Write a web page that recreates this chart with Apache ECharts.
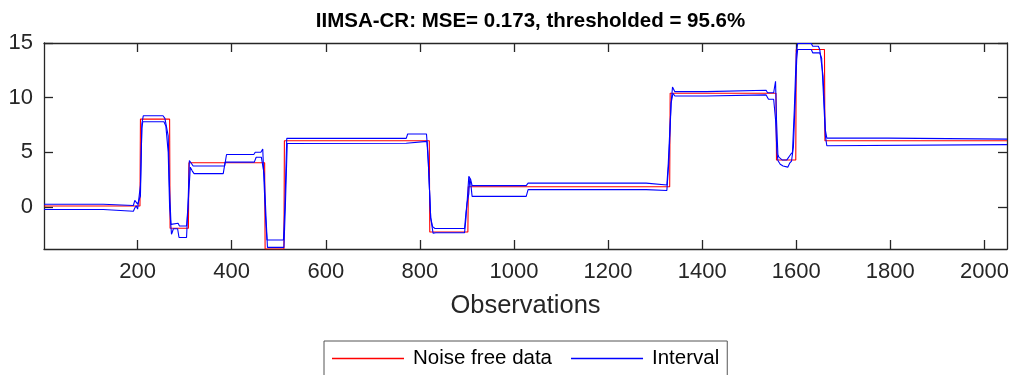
<!DOCTYPE html>
<html>
<head>
<meta charset="utf-8">
<script src="https://cdn.jsdelivr.net/npm/echarts@6/dist/echarts.min.js"></script>
<style>
html,body{margin:0;padding:0;background:#fff;}
#chart{width:1013px;height:375px;}
</style>
</head>
<body>
<div id="chart"></div>
<script>
// Tick labels
var xTicks = [200, 400, 600, 800, 1000, 1200, 1400, 1600, 1800, 2000];
var yTicks = [0, 5, 10, 15];

// Noise free data: [observation, value] (step function corners)
var noiseFree = [
  [1,0.08],[205,0.08],[206,8.03],[268,8.03],[269,-1.95],[308,-1.95],[309,4.04],[470,4.04],
  [471,-3.85],[511,-3.85],[512,6.05],[820,6.05],[821,-2.3],[902,-2.3],[903,1.85],[1331,1.85],
  [1332,10.4],[1557,10.4],[1558,4.3],[1599,4.3],[1600,14.4],[1660,14.4],[1661,6.05],[2048,6.05]
];

// Interval upper bound
var upperBound = [
  [1,0.25],[127,0.25],[129,0.13],[191,0.13],[194,0.6],[197,0.67],[200,0.25],[203,0.1],[206,1],[209,7.6],
  [212,8.34],[254,8.34],[258,8.1],[262,8.03],[265,6.5],[268,1.5],[271,-1.6],[274,-1.5],[286,-1.5],[289,-1.75],
  [304,-1.75],[307,0],[310,4.25],[314,4.15],[318,3.75],[385,3.75],[389,4.8],[447,4.8],[450,5.0],[462,5.0],
  [466,5.3],[468,3],[472,-1],[475,-3.03],[510,-3.03],[513,0],[517,6.27],[771,6.27],[774,6.67],[814,6.67],
  [817,5],[823,-1],[827,-1.8],[832,-1.97],[895,-1.97],[898,-0.5],[900,0.2],[902,1.5],[904,2.8],[906,2.9],
  [908,2.5],[911,1.95],[1026,1.95],[1030,2.18],[1281,2.18],[1284,2.0],[1325,2.0],[1328,4],[1334,9.5],[1337,10.97],
  [1342,10.55],[1409,10.55],[1412,10.67],[1536,10.67],[1539,10.45],[1552,10.45],[1556,11.5],[1558,8],[1561,4.8],[1563,4.55],
  [1570,4.3],[1580,4.3],[1588,4.8],[1592,5.0],[1596,9],[1600,14],[1603,14.95],[1632,14.95],[1635,14.7],[1647,14.7],
  [1650,14.4],[1654,14.4],[1657,12],[1662,7],[1665,6.3],[1795,6.3],[1798,6.2],[2048,6.2]
];

// Interval lower bound
var lowerBound = [
  [1,-0.24],[127,-0.24],[129,-0.39],[191,-0.39],[194,-0.1],[197,0.1],[200,-0.2],[203,-0.1],[206,2],[209,7.2],
  [211,7.8],[256,7.8],[260,7.4],[262,7.27],[265,5],[268,0],[272,-2.5],[274,-2.27],[276,-2.0],[285,-2.0],
  [288,-2.8],[304,-2.8],[307,0],[312,3.64],[316,3.3],[320,3.05],[382,3.05],[386,4.1],[448,4.1],[452,4.55],
  [463,4.55],[466,4.7],[469,3],[473,-1],[476,-3.7],[511,-3.7],[514,0],[518,5.8],[771,5.82],[774,6.0],
  [815,6.0],[818,4],[823,-1],[828,-2.4],[830,-2.57],[834,-2.36],[895,-2.36],[898,-1],[900,0.3],[902,0.2],
  [904,1.2],[906,2.6],[908,2.2],[911,0.97],[1026,0.97],[1030,1.58],[1281,1.58],[1284,1.5],[1325,1.5],[1329,4],
  [1334,9.5],[1338,10.4],[1342,10.15],[1409,10.15],[1412,10.25],[1536,10.25],[1541,9.85],[1552,9.85],[1556,8],[1559,5],
  [1561,4.25],[1566,3.9],[1572,3.75],[1582,3.64],[1586,4.0],[1590,4.2],[1594,5.5],[1598,10],[1601,13.5],[1603,14.4],
  [1632,14.4],[1635,14.1],[1650,14.1],[1654,13.6],[1657,11],[1662,6.5],[1665,5.6],[1668,5.7],[2048,5.7]
];

var axisColor = '#262626';
var font = 'Liberation Sans, Arial, Helvetica, sans-serif';
var plain = function (v) { return String(v); };

var chart = echarts.init(document.getElementById('chart'), null, {renderer: 'canvas'});

function xAxisDef(pos, showLabel) {
  return {
    type: 'value', position: pos, min: 1, max: 2048,
    axisLine: {show: true, onZero: false, lineStyle: {color: axisColor, width: 1.3}},
    axisTick: {show: true, inside: true, length: 9, customValues: xTicks, lineStyle: {color: axisColor, width: 1.3}},
    axisLabel: {show: showLabel, customValues: xTicks, formatter: plain, margin: 12, fontSize: 22, fontFamily: font, color: axisColor},
    splitLine: {show: false},
    name: showLabel ? 'Observations' : '',
    nameLocation: 'middle', nameGap: 44,
    nameTextStyle: {fontSize: 25.5, fontFamily: font, color: axisColor}
  };
}
function yAxisDef(pos, showLabel) {
  return {
    type: 'value', position: pos, min: -3.85, max: 15,
    axisLine: {show: true, onZero: false, lineStyle: {color: axisColor, width: 1.3}},
    axisTick: {show: true, inside: true, length: 9, customValues: yTicks, lineStyle: {color: axisColor, width: 1.3}},
    axisLabel: {show: showLabel, customValues: yTicks, formatter: plain, margin: 11, fontSize: 22, fontFamily: font, color: axisColor},
    splitLine: {show: false}
  };
}

chart.setOption({
  animation: false,
  backgroundColor: '#ffffff',
  title: {
    text: 'IIMSA-CR: MSE= 0.173, thresholded = 95.6%',
    left: 525.5, top: 6, textAlign: 'center',
    textStyle: {fontSize: 20.5, fontWeight: 'bold', fontFamily: font, color: '#000'}
  },
  grid: {left: 44, right: 6, top: 43, bottom: 126, containLabel: false},
  xAxis: [xAxisDef('bottom', true), xAxisDef('top', false)],
  yAxis: [yAxisDef('left', true), yAxisDef('right', false)],
  legend: {
    left: 324, top: 341,
    padding: [7, 8, 11, 8],
    borderColor: '#555', borderWidth: 1,
    itemWidth: 72, itemHeight: 1.4, itemGap: 19,
    icon: 'rect',
    textStyle: {fontSize: 20.5, fontFamily: font, color: '#000', padding: [0, 0, 0, 4]},
    data: [
      {name: 'Noise free data', itemStyle: {color: '#ff0000'}},
      {name: 'Interval', itemStyle: {color: '#0000ff'}}
    ]
  },
  series: [
    {name: 'Noise free data', type: 'line', data: noiseFree, showSymbol: false, symbol: 'none',
     lineStyle: {color: '#ff0000', width: 1.1}, itemStyle: {color: '#ff0000'}, clip: true, z: 2},
    {name: 'Interval', type: 'line', data: upperBound, showSymbol: false, symbol: 'none',
     lineStyle: {color: '#0000ff', width: 1.1}, itemStyle: {color: '#0000ff'}, clip: true, z: 3},
    {name: 'Interval', type: 'line', data: lowerBound, showSymbol: false, symbol: 'none',
     lineStyle: {color: '#0000ff', width: 1.1}, itemStyle: {color: '#0000ff'}, clip: true, z: 3}
  ]
});
</script>
</body>
</html>
